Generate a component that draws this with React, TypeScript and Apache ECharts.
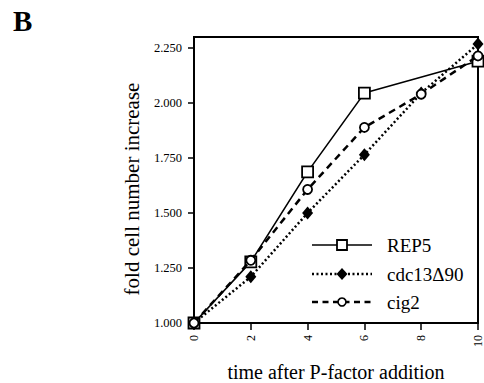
import React, { useEffect, useRef } from "react";
import * as echarts from "echarts";

const times = [0, 2, 4, 6, 8, 10];
const rep5 = [[0, 1.0], [2, 1.278], [4, 1.687], [6, 2.045], [10, 2.19]];
const cdc13 = [[0, 1.0], [2, 1.21], [4, 1.5], [6, 1.765], [8, 2.045], [10, 2.268]];
const cig2 = [[0, 1.0], [2, 1.285], [4, 1.607], [6, 1.889], [8, 2.04], [10, 2.214]];
const seriesNames = ["REP5", "cdc13Δ90", "cig2"];

const FONT = "'Liberation Serif', 'Times New Roman', serif";

const styles = [
  { dash: null as any, width: 1.6 },
  { dash: [2, 2.5], width: 2.5 },
  { dash: [6, 4.5], width: 2.5 },
];

function legendGraphic() {
  const rows = [245, 274, 302];
  const x0 = 312, x1 = 372, xs = 342, xt = 387;
  const els: any[] = [];
  rows.forEach((y, i) => {
    els.push({
      type: "line",
      shape: { x1: x0, y1: y, x2: x1, y2: y },
      style: { stroke: "#000", lineWidth: styles[i].width, lineDash: styles[i].dash || undefined },
      z: 10,
    });
    if (i === 0) {
      els.push({ type: "rect", shape: { x: xs - 5, y: y - 5, width: 10, height: 10 }, style: { fill: "#fff", stroke: "#000", lineWidth: 1.8 }, z: 11 });
    } else if (i === 1) {
      els.push({ type: "polygon", shape: { points: [[xs, y - 6], [xs + 5.5, y], [xs, y + 6], [xs - 5.5, y]] }, style: { fill: "#000" }, z: 11 });
    } else {
      els.push({ type: "circle", shape: { cx: xs, cy: y, r: 4 }, style: { fill: "#fff", stroke: "#000", lineWidth: 1.6 }, z: 11 });
    }
    els.push({
      type: "text",
      x: xt,
      y: y,
      style: { text: seriesNames[i], font: `19px ${FONT}`, fill: "#000", verticalAlign: "middle", align: "left" },
      z: 11,
    });
  });
  return els;
}

export default function App() {
  const ref = useRef<HTMLDivElement>(null);
  useEffect(() => {
    if (!ref.current) return;
    const chart = echarts.init(ref.current, null, { renderer: "svg" });
    chart.setOption({
      animation: false,
      backgroundColor: "#fff",
      textStyle: { fontFamily: FONT, color: "#000" },
      graphic: [
        {
          type: "text",
          left: 13,
          top: 6,
          style: { text: "B", font: `bold 29px ${FONT}`, fill: "#000" },
        },
        ...legendGraphic(),
      ],
      grid: {
        left: 194,
        right: 6,
        top: 37,
        bottom: 60,
        outerBoundsMode: "none",
        show: true,
        borderColor: "#000",
        borderWidth: 2,
        backgroundColor: "transparent",
      },
      xAxis: {
        type: "value",
        min: 0,
        max: 10,
        interval: 2,
        name: "time after P-factor addition",
        nameLocation: "middle",
        nameGap: 39,
        nameTextStyle: { fontFamily: FONT, fontSize: 20, color: "#000" },
        axisLine: { show: true, lineStyle: { color: "#000", width: 2 } },
        axisTick: { show: true, inside: false, length: 7, lineStyle: { color: "#000", width: 1.5 } },
        axisLabel: { rotate: 90, margin: 12, fontFamily: FONT, fontSize: 12, color: "#000" },
        splitLine: { show: false },
      },
      yAxis: {
        type: "value",
        min: 1,
        max: 2.3,
        interval: 0.25,
        name: "fold cell number increase",
        nameLocation: "middle",
        nameGap: 50,
        nameTextStyle: { fontFamily: FONT, fontSize: 21, color: "#000", padding: [0, 18, 0, 0] },
        axisLine: { show: true, lineStyle: { color: "#000", width: 2 } },
        axisTick: { show: true, inside: false, length: 6, lineStyle: { color: "#000", width: 1.5 } },
        axisLabel: {
          showMaxLabel: false,
          margin: 12,
          fontFamily: FONT,
          fontSize: 12.5,
          color: "#000",
          formatter: (v: number) => v.toFixed(3),
        },
        splitLine: { show: false },
      },
      series: [
        {
          name: seriesNames[0],
          type: "line",
          data: rep5,
          symbol: "rect",
          symbolSize: 11,
          clip: false,
          z: 4,
          lineStyle: { color: "#000", width: 1.6, type: "solid" },
          itemStyle: { color: "#fff", borderColor: "#000", borderWidth: 1.8 },
        },
        {
          name: seriesNames[1],
          type: "line",
          data: cdc13,
          symbol: "diamond",
          symbolSize: [11, 13],
          clip: false,
          z: 3,
          lineStyle: { color: "#000", width: 2.5, type: [2, 2.5] },
          itemStyle: { color: "#000", borderColor: "#000", borderWidth: 0 },
        },
        {
          name: seriesNames[2],
          type: "line",
          data: cig2,
          symbol: "circle",
          symbolSize: 9,
          clip: false,
          z: 5,
          lineStyle: { color: "#000", width: 2.5, type: [7, 5] },
          itemStyle: { color: "#fff", borderColor: "#000", borderWidth: 1.8 },
        },
      ],
    });
    return () => chart.dispose();
  }, []);
  return (
    <div
      ref={ref}
      style={{ position: "absolute", left: 0, top: 0, width: 484, height: 383, background: "#fff" }}
    />
  );
}
